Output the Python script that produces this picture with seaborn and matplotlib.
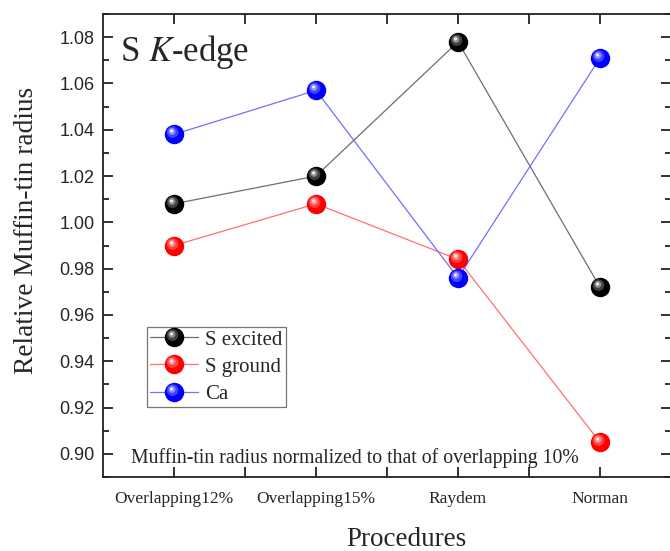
import numpy as np
import pandas as pd
import seaborn as sns
import matplotlib.pyplot as plt
from matplotlib.path import Path
from matplotlib.markers import MarkerStyle
from matplotlib.lines import Line2D
from matplotlib.ticker import FixedLocator, MultipleLocator
from matplotlib.colors import to_rgb
from matplotlib.legend_handler import HandlerTuple

procedures = ['Overlapping12%', 'Overlapping15%', 'Raydem', 'Norman']
s_excited = [1.008, 1.020, 1.078, 0.972]
s_ground = [0.990, 1.008, 0.984, 0.905]
ca = [1.038, 1.057, 0.976, 1.071]
series_names = ['S excited', 'S ground', 'Ca']
ball_colors = ['#000000', '#ff0000', '#0000ff']
line_colors = ['#6e6e6e', '#ff7070', '#7070ff']

sns.set_style('ticks')
plt.rcParams['font.family'] = ['Liberation Serif', 'DejaVu Serif']
plt.rcParams['mathtext.fontset'] = 'stix'

df = pd.DataFrame({
    'procedure': procedures * 3,
    'x': list(range(len(procedures))) * 3,
    'value': s_excited + s_ground + ca,
    'series': [n for n in series_names for _ in procedures],
})

fig = plt.figure(figsize=(6.7, 5.51), dpi=100)
ax = fig.add_axes([103 / 670, 1 - 477 / 551, 568 / 670, 463 / 551])

sns.lineplot(data=df, x='x', y='value', hue='series', palette=line_colors,
             hue_order=series_names, linewidth=0.9, legend=False, ax=ax, zorder=2)


def circle_marker(cx, cy, r):
    # marker path gets rescaled so its max |vertex| is 0.5, so return the size factor too
    c = Path.circle((cx, cy), r)
    m = max(abs(cx), abs(cy)) + r
    return MarkerStyle(c), 2 * m


def mix(color, w):
    c = np.array(to_rgb(color))
    return tuple(c + (1 - c) * w)


ball_ms = 14
layers = [
    (0.0, 0.0, 0.5, 0.0),
    (-0.10, 0.12, 0.30, 0.25),
    (-0.13, 0.16, 0.18, 0.55),
    (-0.15, 0.18, 0.08, 0.95),
]


def ball_handles(color):
    arts = []
    for cx, cy, r, w in layers:
        mk, f = circle_marker(cx, cy, r)
        arts.append((mk, ball_ms * f, mix(color, w)))
    return arts


for name, color in zip(series_names, ball_colors):
    sub = df[df['series'] == name]
    for i, (mk, ms, fc) in enumerate(ball_handles(color)):
        ax.plot(sub['x'], sub['value'], linestyle='none', marker=mk, markersize=ms,
                markerfacecolor=fc, markeredgewidth=0, zorder=3 + i, clip_on=False)

ax.set_xlim(-0.5, 3.5)
ax.set_ylim(0.89, 1.09)
ax.set_xticks(range(len(procedures)))
ax.set_xticklabels(procedures, fontsize=12.5)
ax.xaxis.set_minor_locator(FixedLocator([0.5, 1.5, 2.5]))
ax.yaxis.set_major_locator(MultipleLocator(0.02))
ax.yaxis.set_minor_locator(MultipleLocator(0.01))
ax.yaxis.set_major_formatter(plt.FormatStrFormatter('%.2f'))
for lab in ax.get_yticklabels():
    lab.set_fontfamily(['Liberation Sans', 'DejaVu Sans'])
    lab.set_fontsize(13)

ax.tick_params(which='both', direction='in', top=True, right=True, width=1.3, color='#222222')
ax.tick_params(axis='x', which='both', length=7, pad=10)
ax.tick_params(axis='y', which='major', length=7, pad=6)
ax.tick_params(axis='y', which='minor', length=4)
for sp in ax.spines.values():
    sp.set_linewidth(1.3)
    sp.set_color('#222222')

ax.set_xlabel('Procedures', fontsize=19.5)
ax.xaxis.label.set_va('baseline')
ax.xaxis.set_label_coords(0.535, -0.150)
ax.set_ylabel('Relative Muffin-tin radius', fontsize=19.7)
ax.yaxis.set_label_coords(-0.112, 0.533)

ax.text(17 / 568, 0.96, 'S $K$-edge', transform=ax.transAxes, fontsize=25, va='top', ha='left')
ax.text(0.444, 0.03, 'Muffin-tin radius normalized to that of overlapping 10%',
        transform=ax.transAxes, fontsize=14.2, ha='center', va='baseline')

handles = []
for name, color, lc in zip(series_names, ball_colors, line_colors):
    parts = [Line2D([], [], color=lc, linewidth=0.9)]
    for mk, ms, fc in ball_handles(color):
        parts.append(Line2D([], [], linestyle='none', marker=mk, markersize=ms,
                            markerfacecolor=fc, markeredgewidth=0))
    handles.append(tuple(parts))

leg = fig.legend(handles, series_names, loc='lower left',
                 bbox_to_anchor=(147 / 670, 1 - 407 / 551), borderaxespad=0,
                 fontsize=15, handlelength=2.3, labelspacing=0.36, handletextpad=0.35,
                 borderpad=0.15, fancybox=False, frameon=True,
                 handler_map={tuple: HandlerTuple(ndivide=1, pad=0)})
leg.get_frame().set_edgecolor('#555555')
leg.get_frame().set_linewidth(0.9)

fig.savefig('out.png', dpi=100)
